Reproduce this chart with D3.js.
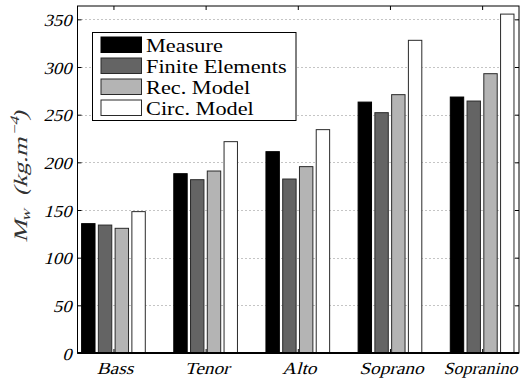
<!DOCTYPE html>
<html><head><meta charset="utf-8">
<script src="https://cdn.jsdelivr.net/npm/d3@7"></script>
<style>
html,body{margin:0;padding:0;background:#fff;}
svg{display:block;}
</style></head>
<body>
<svg id="chart" width="523" height="383"></svg>
<script>
const categories = ["Bass", "Tenor", "Alto", "Soprano", "Sopranino"];
const seriesNames = ["Measure", "Finite Elements", "Rec. Model", "Circ. Model"];
const measure  = [135.7, 188.1, 211.2, 263.2, 268.5];
const finite   = [134.2, 181.8, 182.5, 252.1, 264.3];
const rec      = [130.8, 190.9, 195.5, 271.0, 293.0];
const circ     = [148.3, 221.7, 234.3, 328.0, 355.5];
const yTicks = [0, 50, 100, 150, 200, 250, 300, 350];
const fills = ["#000000", "#646464", "#b4b4b4", "#ffffff"];

const series = [measure, finite, rec, circ];
const L = 77.5, R = 519, T = 6, B = 353;
const FONT = "Liberation Serif";
const ITAL = "skewX(-14)";
const svg = d3.select("#chart");

const x = d3.scaleLinear().domain([0.61, 5.40]).range([L, R]);
const y = d3.scaleLinear().domain([0, 364]).range([B, T]);

const slot = 0.7273 / 4, bw = 0.8 * slot;

// grid
svg.append("g").selectAll("line").data(yTicks.filter(d => d > 0)).join("line")
  .attr("x1", L).attr("x2", R)
  .attr("y1", d => Math.round(y(d)) + 0.5).attr("y2", d => Math.round(y(d)) + 0.5)
  .attr("stroke", "#8a8a8a").attr("stroke-width", 1).attr("stroke-dasharray", "1,3");

// bars
series.forEach((vals, si) => {
  svg.append("g").selectAll("rect").data(vals).join("rect")
    .attr("x", (d, i) => x(i + 1 + (si - 1.5) * slot - bw / 2))
    .attr("width", x(bw) - x(0))
    .attr("y", d => y(d))
    .attr("height", d => y(0) - y(d))
    .attr("fill", fills[si])
    .attr("stroke", si === 0 ? "#000" : "#2a2a2a")
    .attr("stroke-width", 1);
});

// baseline
svg.append("line").attr("x1", L).attr("x2", R).attr("y1", y(0)).attr("y2", y(0))
  .attr("stroke", "#000").attr("stroke-width", 2);

// axes (ticks only; labels drawn below)
const yAxis = d3.axisLeft(y).tickValues(yTicks).tickSize(-4).tickFormat("");
const gy = svg.append("g").attr("transform", `translate(${L},0)`).call(yAxis);
gy.select(".domain").remove();
gy.selectAll("line").attr("stroke", "#000");

const yAxisR = d3.axisRight(y).tickValues(yTicks).tickSize(-4).tickFormat("");
const gyr = svg.append("g").attr("transform", `translate(${R},0)`).call(yAxisR);
gyr.select(".domain").remove();
gyr.selectAll("line").attr("stroke", "#000");

const xAxisTop = d3.axisTop(x).tickValues(d3.range(1, categories.length + 1)).tickSize(-4).tickFormat("");
const gxt = svg.append("g").attr("transform", `translate(0,${T})`).call(xAxisTop);
gxt.select(".domain").remove();
gxt.selectAll("line").attr("stroke", "#000");

const xAxis = d3.axisBottom(x).tickValues(d3.range(1, categories.length + 1)).tickSize(-4).tickFormat("");
const gx = svg.append("g").attr("transform", `translate(0,${B})`).call(xAxis);
gx.select(".domain").remove();
gx.selectAll("line").attr("stroke", "#000");

// y tick labels (italic serif)
svg.append("g").selectAll("text").data(yTicks).join("text")
  .attr("transform", d => `translate(71.5,${y(d) + 6.5}) scale(1.1,1) ${ITAL}`)
  .attr("text-anchor", "end")
  .attr("font-family", FONT).attr("font-size", 17).attr("fill", "#000")
  .text(d => d3.format("d")(d));

// x category labels
svg.append("g").selectAll("text").data(categories).join("text")
  .attr("transform", (d, i) => `translate(${Math.min(x(i + 1) + 1.5, 480.5)},373.5) scale(${i === 4 ? 1.06 : 1.14},1) ${ITAL}`)
  .attr("text-anchor", "middle")
  .attr("font-family", FONT).attr("font-size", 17).attr("fill", "#000")
  .text(d => d);

// frame
svg.append("rect").attr("x", L).attr("y", T).attr("width", R - L).attr("height", B - T)
  .attr("fill", "none").attr("stroke", "#000").attr("stroke-width", 1);

// y label
const yl = svg.append("text")
  .attr("transform", `translate(27,177) rotate(-90) scale(1.3,1) ${ITAL}`)
  .attr("text-anchor", "middle")
  .attr("font-family", FONT).attr("font-size", 19).attr("fill", "#333");
yl.append("tspan").text("M");
yl.append("tspan").attr("font-size", 13).attr("dy", 3).text("w");
yl.append("tspan").attr("dy", -3).text("\u2002(kg.m");
yl.append("tspan").attr("font-size", 13).attr("dy", -8).text("\u22124");
yl.append("tspan").attr("dy", 8).text(")");

// legend
const lg = svg.append("g");
lg.append("rect").attr("x", 92.5).attr("y", 32.5).attr("width", 203.5).attr("height", 88)
  .attr("fill", "#fff").attr("stroke", "#000").attr("stroke-width", 1);
seriesNames.forEach((name, i) => {
  const yy = 37 + i * 21;
  lg.append("rect").attr("x", 101).attr("y", yy).attr("width", 40.5).attr("height", 15.5)
    .attr("fill", fills[i]).attr("stroke", i === 0 ? "#000" : "#2a2a2a").attr("stroke-width", 1);
  lg.append("text").attr("transform", `translate(146,${yy + 14.5}) scale(1.24,1)`)
    .attr("font-family", FONT).attr("font-size", 18).attr("fill", "#000")
    .text(name);
});
</script>
</body></html>
